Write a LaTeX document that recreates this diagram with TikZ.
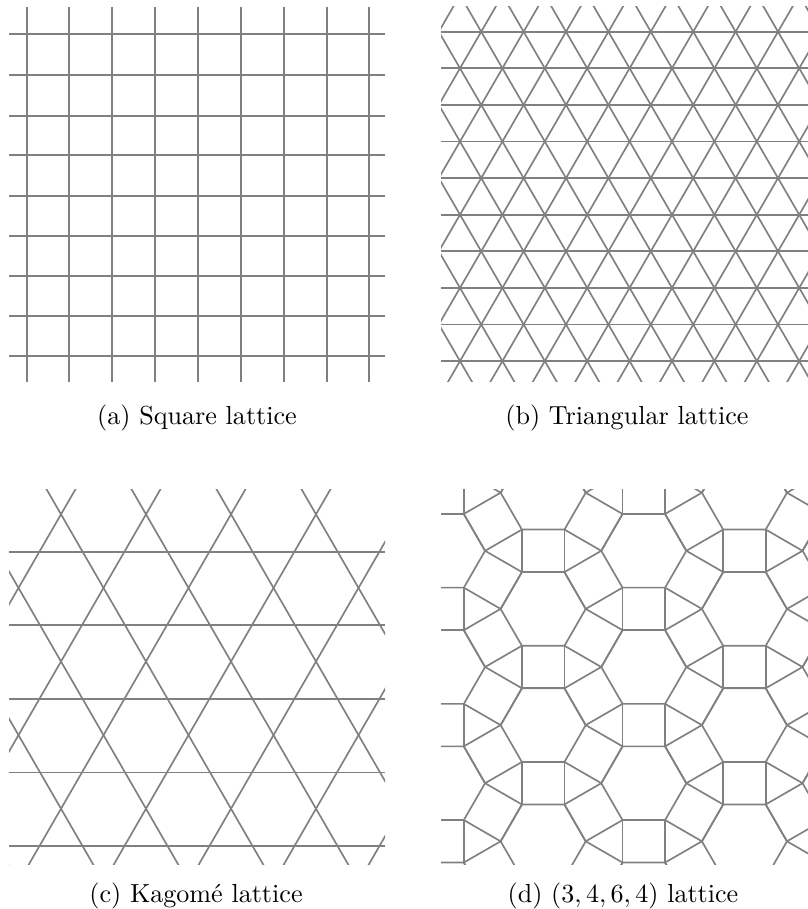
\documentclass[tikz,border=0pt]{standalone}
\begin{document}
\begin{tikzpicture}[x=0.383pt,y=-0.383pt,
  lat/.style={draw=black!50,line width=0.64pt},
  captext/.style={anchor=base,inner sep=0pt,font=\fontsize{10}{12}\selectfont}]
\useasboundingbox (0,0) rectangle (808,909);

% (a) square lattice
\foreach \y in {34.3,75,115.7,155.3,196,236.3,276.3,316.3,356.3}
  \draw[lat] (9,\y) -- (385,\y);
\foreach \x in {26.7,69.3,112,155,198.3,241,284,326.7,369.3}
  \draw[lat] (\x,6.7) -- (\x,381.7);

% (b) triangular lattice
\begin{scope}
\clip (441,6.7) rectangle (808,381.7);
\foreach \k in {0,...,9}
  \draw[lat] (441,{31.7+36.6*\k}) -- (808,{31.7+36.6*\k});
\foreach \n in {-6,...,14} {
  \draw[lat] ({460+42.4*\n-21.2*12},{68.3-36.6*12}) -- ({460+42.4*\n+21.2*12},{68.3+36.6*12});
  \draw[lat] ({460+42.4*\n+21.2*12},{68.3-36.6*12}) -- ({460+42.4*\n-21.2*12},{68.3+36.6*12});
}
\end{scope}

% (c) kagome lattice
\begin{scope}
\clip (9,489) rectangle (385,864);
\foreach \m in {0,...,4}
  \draw[lat] (9,{551.7+73.6*\m}) -- (385,{551.7+73.6*\m});
\foreach \n in {-5,...,8} {
  \draw[lat] ({61+85*\n-42.5*6},{514.3-73.6*6}) -- ({61+85*\n+42.5*6},{514.3+73.6*6});
  \draw[lat] ({61+85*\n+42.5*6},{514.3-73.6*6}) -- ({61+85*\n-42.5*6},{514.3+73.6*6});
}
\end{scope}

% (d) (3,4,6,4) lattice
\begin{scope}
\clip (441,489) rectangle (808,864);
\foreach \n in {-3,...,3} \foreach \m in {-5,...,5} {
  \pgfmathsetmacro\cx{643.8+100.63*\n}
  \pgfmathsetmacro\cy{550.8+116.2*\m+58.1*\n}
  \draw[lat] (\cx+42.55,\cy) -- (\cx+21.28,\cy+36.85) -- (\cx-21.28,\cy+36.85)
     -- (\cx-42.55,\cy) -- (\cx-21.28,\cy-36.85) -- (\cx+21.28,\cy-36.85) -- cycle;
  \draw[lat] (\cx-21.28,\cy+36.85) -- (\cx-21.28,\cy+79.4) -- (\cx+21.28,\cy+79.4) -- (\cx+21.28,\cy+36.85);
  \draw[lat] (\cx+42.55,\cy) -- (\cx+79.4,\cy+21.28) -- (\cx+58.13,\cy+58.13) -- (\cx+21.28,\cy+36.85);
  \draw[lat] (\cx-42.55,\cy) -- (\cx-79.4,\cy+21.28) -- (\cx-58.13,\cy+58.13) -- (\cx-21.28,\cy+36.85);
}
\end{scope}

% captions
\node[captext] (capa) at (197,424) {(a) Square lattice};
\node[captext] (capb) at (627,424) {(b) Triangular lattice};
\node[captext] (capc) at (196,902.5) {(c) Kagom\'e lattice};
\node[captext] (capd) at (623,902.5) {(d) $(3,4,6,4)$ lattice};
\end{tikzpicture}
\end{document}
